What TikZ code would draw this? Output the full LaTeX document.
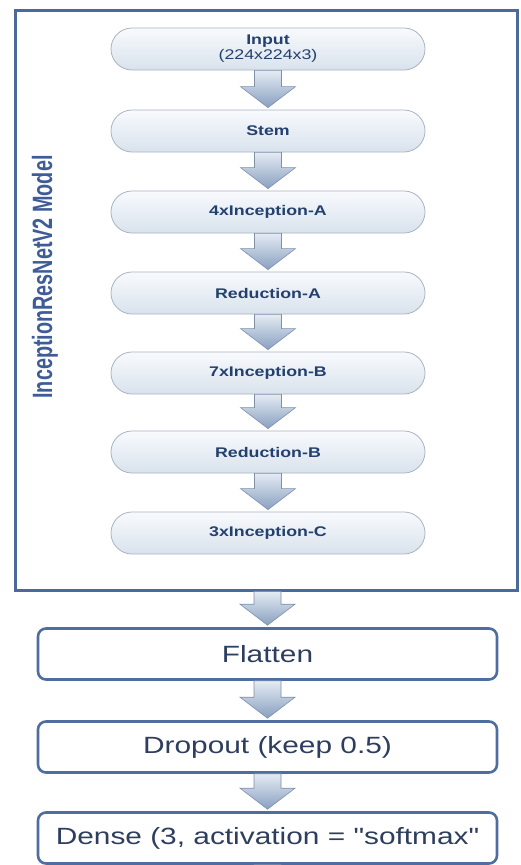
\documentclass[tikz,border=0pt]{standalone}
\usepackage{fontspec}
\setmainfont{Liberation Sans}
% same face without TeX quote ligatures, so " stays a straight quote
\newfontfamily\plainsans{Liberation Sans}
\usepackage{graphicx}
\usetikzlibrary{calc}

\definecolor{pilltop}{HTML}{F8FAFD}
\definecolor{pillbot}{HTML}{D9E2EC}
\definecolor{pillline}{HTML}{A9B4C4}
\definecolor{pilltext}{HTML}{23406E}
\definecolor{boxline}{HTML}{4F6E9F}
\definecolor{boxtext}{HTML}{2E3E5E}
\definecolor{arrowtop}{HTML}{E4EBF3}
\definecolor{arrowbot}{HTML}{88A0C0}
\definecolor{arrowline}{HTML}{7E90AA}
\definecolor{framecol}{HTML}{4A6A9C}
\definecolor{titlecol}{HTML}{3E5C98}

% wide lettering used throughout the chart
\newcommand\widen[1]{\scalebox{1.27}[1]{#1}}

% block arrow from one anchor down to another
\newcommand\flowdown[2]{%
  \path[flowarrow] let \p1=(#1), \p2=(#2) in
    (\x1-13.5pt,\y1) -- (\x1+13.5pt,\y1) -- (\x1+13.5pt,\y2+23pt)
    -- (\x1+27.5pt,\y2+23pt) -- (\x1,\y2+2pt) -- (\x1-27.5pt,\y2+23pt)
    -- (\x1-13.5pt,\y2+23pt) -- cycle;}

\tikzset{
  layer/.style={draw=pillline, line width=0.8pt, rounded corners=21pt,
    top color=pilltop, bottom color=pillbot, minimum width=314pt,
    minimum height=42pt, text=pilltext, align=center, inner sep=0pt,
    font=\fontsize{14}{15}\selectfont\bfseries},
  headbox/.style={draw=boxline, line width=2.6pt, rounded corners=8pt,
    fill=white, minimum width=459pt, minimum height=51pt, text=boxtext,
    inner sep=0pt, font=\plainsans\fontsize{23.5}{26}\selectfont},
  modelframe/.style={draw=framecol, line width=3pt, minimum width=502pt,
    minimum height=580pt, inner sep=0pt},
  flowarrow/.style={draw=arrowline, line width=0.6pt, top color=arrowtop,
    bottom color=arrowbot, line join=miter},
}

\begin{document}
\begin{tikzpicture}[x=1pt, y=-1pt]
  \clip (0,0) rectangle (520,865);
  \fill[white] (0,0) rectangle (520,865);

  % backbone frame and its title
  \node[modelframe] (model) at (266,300) {};
  \node[rotate=90, text=titlecol, inner sep=0pt,
        font=\fontsize{22}{24}\selectfont\bfseries] (title) at (45,277)
        {\scalebox{0.9}[1.27]{InceptionResNetV2 Model}};

  % backbone stages
  \node[layer] (in)   at (268,49)  {\widen{Input}\\\widen{\mdseries (224x224x3)}};
  \node[layer] (stem) at (268,131) {\widen{Stem}};
  \node[layer] (ia)   at (268,212) {\widen{4xInception-A}};
  \node[layer] (ra)   at (268,293) {\widen{Reduction-A}};
  \node[layer] (ib)   at (268,373) {\widen{7xInception-B}};
  \node[layer] (rb)   at (268,452) {\widen{Reduction-B}};
  \node[layer] (ic)   at (268,533) {\widen{3xInception-C}};

  % classifier head
  \node[headbox] (flat)  at (267.5,654) {\widen{Flatten}};
  \node[headbox] (drop)  at (267.5,747) {\widen{Dropout (keep 0.5)}};
  \node[headbox] (dense) at (267.5,838) {\widen{Dense (3, activation = "softmax"}};
  \coordinate (out) at (267.5,900);

  \flowdown{in.south}{stem.north}
  \flowdown{stem.south}{ia.north}
  \flowdown{ia.south}{ra.north}
  \flowdown{ra.south}{ib.north}
  \flowdown{ib.south}{rb.north}
  \flowdown{rb.south}{ic.north}
  \flowdown{model.south -| flat.north}{flat.north}
  \flowdown{flat.south}{drop.north}
  \flowdown{drop.south}{dense.north}
  \flowdown{dense.south}{out}
\end{tikzpicture}
\end{document}
